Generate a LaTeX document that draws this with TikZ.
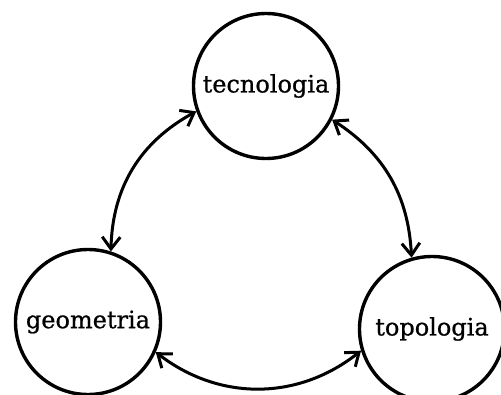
\documentclass[tikz,border=0pt]{standalone}
\usepackage{fontspec}
\newfontfamily\labelfont[FakeBold=0.8]{DejaVu Serif}
\usetikzlibrary{arrows.meta}
\begin{document}
\begin{tikzpicture}[x=1pt,y=-1pt,
  topic/.style={circle,draw,line width=3.4pt,inner sep=0pt,minimum size=145pt,
    font=\labelfont\fontsize{24}{28}\selectfont},
  link/.style={line width=3pt,{Straight Barb[length=12pt,width=18pt,line width=3pt]}-{Straight Barb[length=12pt,width=18pt,line width=3pt]}}]
\useasboundingbox (0,0) rectangle (501,394);
\node[topic] (tec) at (266,86) {tecnologia};
\node[topic] (geo) at (88,322) {geometria};
\node[topic] (top) at (432,329) {topologia};
\draw[link] (tec.200) to[bend right=30] (geo.72);
\draw[link] (tec.333) to[bend left=27] (top.106);
\draw[link] (geo.336) to[bend right=38] (top.197);
\end{tikzpicture}
\end{document}
